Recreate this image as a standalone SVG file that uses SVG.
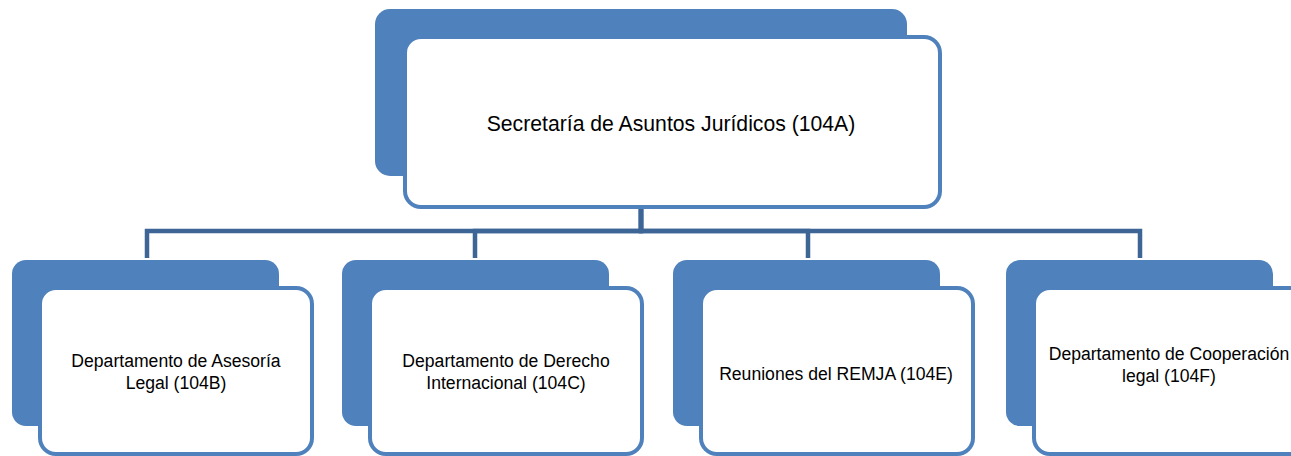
<svg xmlns="http://www.w3.org/2000/svg" width="1291" height="456" viewBox="0 0 1291 456">
<style>
.back{fill:#4F81BD;}
.front{fill:#FFFFFF;stroke:#4F81BD;stroke-width:4;}
.conn{fill:none;stroke:#3D6697;stroke-width:4.5;}
.t1{font-family:"Liberation Sans",Arial,sans-serif;font-size:21.2px;fill:#000;text-anchor:middle;}
.t2{font-family:"Liberation Sans",Arial,sans-serif;font-size:17.6px;fill:#000;text-anchor:middle;}
</style>
<rect width="1291" height="456" fill="#FFFFFF"/>
<g id="connectors">
<path class="conn" d="M641 207 V231 H147 V258"/>
<path class="conn" d="M641 207 V231 H475 V258"/>
<path class="conn" d="M641 207 V231 H808 V258"/>
<path class="conn" d="M641 207 V231 H1140 V258"/>
</g>
<g id="node-104A">
<rect class="back" x="375" y="9" width="532" height="167" rx="15"/>
<rect class="front" x="405" y="37" width="535" height="170" rx="16"/>
<text class="t1" x="671" y="131">Secretaría de Asuntos Jurídicos  (104A)</text>
</g>
<g id="node-104B">
<rect class="back" x="12" y="260" width="267" height="166" rx="14"/>
<rect class="front" x="40" y="288" width="272" height="166" rx="16"/>
<text class="t2" x="176" y="367">Departamento de Asesoría</text>
<text class="t2" x="176" y="389">Legal (104B)</text>
</g>
<g id="node-104C">
<rect class="back" x="342" y="260" width="267" height="166" rx="14"/>
<rect class="front" x="370" y="288" width="272" height="166" rx="16"/>
<text class="t2" x="506" y="367">Departamento de Derecho</text>
<text class="t2" x="506" y="389">Internacional (104C)</text>
</g>
<g id="node-104E">
<rect class="back" x="673" y="260" width="267" height="166" rx="14"/>
<rect class="front" x="701" y="288" width="272" height="166" rx="16"/>
<text class="t2" x="836" y="380">Reuniones del REMJA (104E)</text>
</g>
<g id="node-104F">
<rect class="back" x="1006" y="260" width="267" height="166" rx="14"/>
<rect class="front" x="1034" y="288" width="272" height="166" rx="16"/>
<text class="t2" x="1169" y="360">Departamento de Cooperación</text>
<text class="t2" x="1169" y="382">legal (104F)</text>
</g>
</svg>
